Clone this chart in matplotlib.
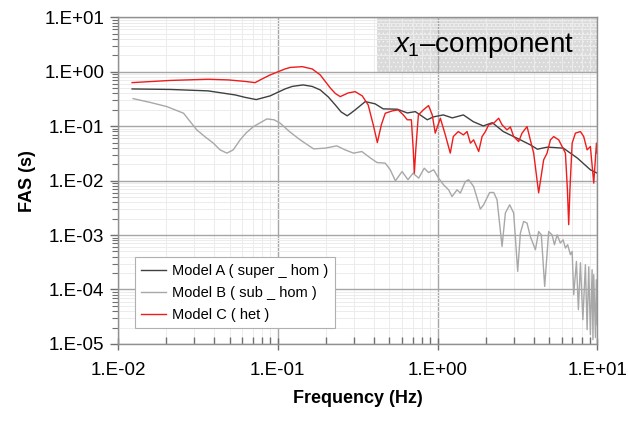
import numpy as np
import matplotlib
matplotlib.use("Agg")
from matplotlib import pyplot as plt
from matplotlib.patches import Rectangle
from matplotlib.ticker import LogLocator, FuncFormatter, NullFormatter

plt.rcParams['font.family'] = ['Liberation Sans', 'DejaVu Sans']
plt.rcParams['mathtext.fontset'] = 'custom'
plt.rcParams['mathtext.rm'] = 'Liberation Sans'
plt.rcParams['mathtext.it'] = 'Liberation Sans:italic'
plt.rcParams['hatch.linewidth'] = 0.6

# Model A ( super _ hom )
freq_a = [0.01224, 0.0212, 0.0366, 0.0541, 0.0625, 0.0733, 0.0895, 0.111, 0.123, 0.144,
          0.1643, 0.1845, 0.207, 0.229, 0.249, 0.272, 0.288, 0.305, 0.353, 0.407,
          0.457, 0.560, 0.647, 0.726, 0.863, 0.942, 1.087, 1.238, 1.452, 1.675,
          1.936, 2.203, 2.582, 3.304, 3.811, 4.217, 4.875, 6.138, 7.516, 9.06,
          10.0]
fas_a = [0.483, 0.473, 0.445, 0.375, 0.338, 0.308, 0.360, 0.483, 0.537, 0.573,
         0.537, 0.463, 0.345, 0.246, 0.183, 0.155, 0.175, 0.199, 0.283, 0.257,
         0.208, 0.205, 0.175, 0.185, 0.131, 0.148, 0.161, 0.142, 0.161, 0.121,
         0.101, 0.116, 0.0796, 0.0561, 0.0454, 0.0378, 0.0412, 0.0395, 0.0259, 0.0158,
         0.0137]

# Model B ( sub _ hom )
freq_b = [0.01242, 0.01586, 0.0202, 0.0257, 0.0311, 0.0351, 0.0395, 0.0435, 0.048, 0.0526,
          0.0581, 0.0634, 0.0705, 0.0855, 0.0948, 0.1035, 0.119, 0.138, 0.1675, 0.198,
          0.234, 0.264, 0.298, 0.336, 0.379, 0.418, 0.471, 0.506, 0.545, 0.600,
          0.653, 0.703, 0.762, 0.826, 0.879, 0.946, 1.016, 1.091, 1.174, 1.233,
          1.325, 1.390, 1.493, 1.566, 1.683, 1.854, 1.945, 2.120, 2.249, 2.359,
          2.536, 2.660, 2.831, 2.998, 3.177, 3.304, 3.461, 3.635, 3.811, 4.102,
          4.297, 4.467, 4.688, 4.966, 5.215, 5.395, 5.610, 5.875, 6.11, 6.322,
          6.531, 6.792, 6.966, 7.126, 7.41, 7.62, 7.849, 8.13, 8.43, 8.643,
          8.85, 9.06, 9.29, 9.40, 9.51, 9.75, 9.87, 10.0]
fas_b = [0.321, 0.2735, 0.229, 0.173, 0.0855, 0.0636, 0.0488, 0.0367, 0.032, 0.0367,
         0.0561, 0.0754, 0.0984, 0.136, 0.131, 0.1135, 0.0786, 0.0561, 0.0383, 0.0395,
         0.0435, 0.0367, 0.032, 0.0342, 0.0262, 0.0215, 0.0209, 0.0158, 0.0099, 0.0147,
         0.0104, 0.0137, 0.0111, 0.0169, 0.0141, 0.0158, 0.0111, 0.00837, 0.00678, 0.0051,
         0.00678, 0.0059, 0.0096, 0.0104, 0.0078, 0.0030, 0.0036, 0.00605, 0.00605, 0.00445,
         0.000618, 0.00254, 0.0036, 0.00254, 0.000215, 0.00109, 0.00178, 0.00166, 0.00094, 0.000537,
         0.00116, 0.00101, 0.000114, 0.00116, 0.00101, 0.000664, 0.00101, 0.000713, 0.00082, 0.000577,
         0.000664, 0.000436, 0.0005, 0.0000803, 0.000328, 0.0000426, 0.00031, 0.0000279, 0.000285, 0.0000183,
         0.000262, 0.0000148, 0.000231, 0.000012, 0.000187, 0.0000131, 0.000151, 0.0000226]

# Model C ( het )
freq_c = [0.01224, 0.0212, 0.0366, 0.0489, 0.0625, 0.0721, 0.0798, 0.0895, 0.111, 0.1197,
          0.1422, 0.1643, 0.1845, 0.213, 0.229, 0.246, 0.276, 0.305, 0.338, 0.368,
          0.396, 0.420, 0.445, 0.471, 0.521, 0.567, 0.611, 0.647, 0.686, 0.705,
          0.716, 0.731, 0.759, 0.815, 0.879, 0.927, 0.968, 1.042, 1.119, 1.202,
          1.256, 1.349, 1.452, 1.531, 1.607, 1.683, 1.811, 1.901, 1.995, 2.089,
          2.249, 2.415, 2.536, 2.723, 2.858, 2.998, 3.221, 3.382, 3.635, 3.811,
          4.000, 4.297, 4.620, 4.853, 5.093, 5.337, 5.738, 6.026, 6.322, 6.506,
          6.629, 6.745, 6.966, 7.302, 7.849, 8.227, 8.643, 9.06, 9.51, 9.89,
          10.0]
fas_c = [0.631, 0.692, 0.728, 0.708, 0.664, 0.631, 0.738, 0.873, 1.125, 1.2,
         1.24, 1.125, 0.873, 0.505, 0.40, 0.349, 0.408, 0.431, 0.360, 0.246,
         0.106, 0.050, 0.106, 0.173, 0.191, 0.199, 0.161, 0.131, 0.131, 0.0367,
         0.0137, 0.0367, 0.161, 0.199, 0.239, 0.161, 0.0745, 0.140, 0.0692, 0.032,
         0.0645, 0.0796, 0.0692, 0.0796, 0.0488, 0.0561, 0.0342, 0.0645, 0.0796, 0.106,
         0.1135, 0.140, 0.106, 0.0855, 0.097, 0.0645, 0.0521, 0.0745, 0.0984, 0.0561,
         0.032, 0.00597, 0.0241, 0.032, 0.0561, 0.0645, 0.0561, 0.0423, 0.032, 0.00678,
         0.00155, 0.00678, 0.0488, 0.0745, 0.0796, 0.0645, 0.0367, 0.0423, 0.009, 0.0488,
         0.032]

labels = ["Model A ( super _ hom )", "Model B ( sub _ hom )", "Model C ( het )"]
colors = ["#404040", "#a8a8a8", "#ee1c1c"]


def sci_label(v, pos):
  return "1.E{:+03d}".format(int(round(np.log10(v))))


fig = plt.figure(figsize=(6.28, 4.22), dpi=100)
ax = fig.add_axes([0.188, 0.185, 0.763, 0.774])

ax.plot(freq_a, fas_a, color=colors[0], lw=1.0, label=labels[0])
ax.plot(freq_b, fas_b, color=colors[1], lw=1.0, label=labels[1])
ax.plot(freq_c, fas_c, color=colors[2], lw=1.0, label=labels[2])

ax.set_xscale('log')
ax.set_yscale('log')
ax.set_xlim(0.01, 10)
ax.set_ylim(1e-5, 10)

ax.xaxis.set_major_locator(LogLocator(base=10, numticks=10))
ax.yaxis.set_major_locator(LogLocator(base=10, numticks=10))
ax.xaxis.set_minor_locator(LogLocator(base=10, subs=np.arange(2, 10), numticks=20))
ax.yaxis.set_minor_locator(LogLocator(base=10, subs=np.arange(2, 10), numticks=20))
ax.xaxis.set_major_formatter(FuncFormatter(sci_label))
ax.yaxis.set_major_formatter(FuncFormatter(sci_label))
ax.xaxis.set_minor_formatter(NullFormatter())
ax.yaxis.set_minor_formatter(NullFormatter())

ax.set_axisbelow(True)
ax.grid(which='major', color='#a6a6a6', lw=1.0)
ax.grid(which='minor', color='#ececec', lw=0.7)

for s in ax.spines.values():
  s.set_color('#909090')
  s.set_linewidth(1.0)

ax.tick_params(axis='x', which='major', direction='inout', length=8, width=1, color='#707070',
               labelsize=13.5, pad=9)
ax.tick_params(axis='x', which='minor', direction='in', length=5, width=1, color='#707070')
ax.tick_params(axis='y', which='major', direction='out', length=6, width=1, color='#707070',
               labelsize=13.5, pad=4)
ax.tick_params(axis='y', which='minor', direction='out', length=4, width=0.8, color='#707070')

ax.set_xlabel("Frequency (Hz)", fontsize=13, fontweight='bold', labelpad=8)
ax.set_ylabel("FAS (s)", fontsize=13, fontweight='bold', labelpad=6)

# stippled label box in the upper right corner
box = Rectangle((0.416, 1.0), 10 - 0.416, 9.0, facecolor='#dadada', edgecolor='#f2f2f2',
                hatch='....', lw=0, zorder=0.4)
ax.add_patch(box)
ax.text(1.95, 3.05, r"$x_1$–component", fontsize=20, ha='center', va='center', zorder=3)

leg = ax.legend(loc='lower left', bbox_to_anchor=(0.035, 0.048), borderaxespad=0,
                fontsize=10.5, frameon=True, fancybox=False, framealpha=1, edgecolor='#b0b0b0',
                handlelength=1.7, handletextpad=0.4, borderpad=0.45, labelspacing=0.55)
leg.get_frame().set_linewidth(0.8)

fig.savefig("out.png", dpi=100)
